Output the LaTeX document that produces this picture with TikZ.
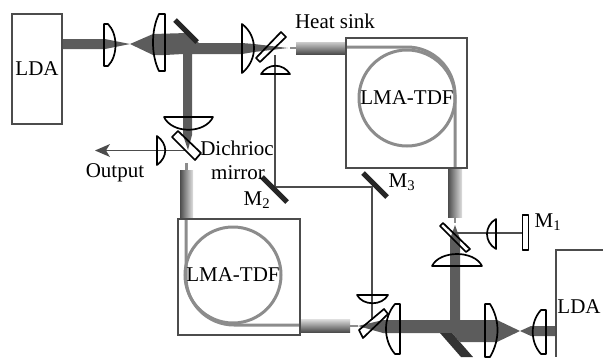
\documentclass[tikz,border=0pt]{standalone}
\usepackage{fontspec}
\setmainfont{Liberation Serif}
\definecolor{beamgray}{gray}{0.36}
\definecolor{fibergray}{gray}{0.55}
\definecolor{framegray}{gray}{0.3}
\tikzset{
    beam/.style={fill=beamgray, draw=none},
    optic/.style={draw=black, line width=1.7pt, line join=round},
    bar/.style={draw=black!85, line width=5pt},
    thinbeam/.style={draw=framegray, line width=1.6pt},
    frame/.style={draw=framegray, line width=1.8pt},
    fiber/.style={draw=fibergray, line width=3pt},
    lab/.style={font=\fontsize{21}{22}\selectfont, inner sep=0pt}
}
\begin{document}
\begin{tikzpicture}[x=1pt, y=-1pt, >=stealth]
    \useasboundingbox (0,0) rectangle (603,357);

    % Upper pump branch
    \fill[beam] (62,39) -- (105,39) -- (130,44) -- (153,34) -- (187,33) -- (199,43) -- (242,43) -- (254,44) -- (288,48) -- (254,52) -- (242,54) -- (192,54) -- (192,135) -- (188,150) -- (183,135) -- (183,54) -- (165,55) -- (153,55) -- (130,44) -- (105,49) -- (62,49) -- cycle;
    \draw[bar] (175,20) -- (197,42);
    \draw[thinbeam] (186,150.5) -- (105,150.5);
    \fill[framegray] (95,150.5) -- (110,144) -- (106,150.5) -- (110,157) -- cycle;
    \draw[thinbeam] (275,55) -- (275,187) -- (372,187) -- (372,320);

    % Lower pump branch
    \fill[beam] (358,326) -- (383,320) -- (450,320) -- (450,239) -- (455,225) -- (460,239) -- (460,320) -- (497,320) -- (520,331) -- (531,326) -- (555,326) -- (555,336) -- (531,336) -- (520,331) -- (497,342) -- (460,342) -- (452,333) -- (383,333) -- cycle;
    \fill[black!80] (440,333) -- (452,333) -- (473,357) -- (461,357) -- cycle;
    \draw[thinbeam] (455,233) -- (523,233);

    % Heat sinks
    \shade[top color=gray!40, bottom color=black!70] (296,42) rectangle (346,54);
    \fill[fibergray] (290,47) rectangle (296,49);
    \shade[left color=black!70, right color=gray!25] (448,168) rectangle (462,217);
    \fill[fibergray] (454,217) rectangle (456,223);
    \shade[left color=black!70, right color=gray!25] (180,170) rectangle (193,219);
    \fill[fibergray] (185,163) rectangle (188,170);
    \shade[top color=gray!25, bottom color=black!70] (300,319) rectangle (350,332);
    \fill[fibergray] (350,324.5) rectangle (358,326.5);

    % Gain fibers
    \node (loopA) at (407,98) [circle, fiber, minimum size=96pt, inner sep=0pt] {};
    \node (loopB) at (233,275) [circle, fiber, minimum size=96pt, inner sep=0pt] {};
    \draw[fiber] (346,47) -- (407,47) arc[start angle=-90, end angle=0, radius=48] -- (455,168);
    \draw[fiber] (186,219) -- (186,277) arc[start angle=180, end angle=90, radius=48] -- (300,325);
    \node (boxA) at (406.5,103) [frame, minimum width=121pt, minimum height=130pt, inner sep=0pt] {};
    \node (boxB) at (239,277) [frame, minimum width=122pt, minimum height=116pt, inner sep=0pt] {};

    % Diode boxes
    \node (ldaA) at (37,69) [frame, minimum width=50pt, minimum height=110pt, inner sep=0pt] {};
    \draw[frame] (603,250) -- (556,250) -- (556,357);

    % Lenses
    \draw[optic] (104,24) -- (108,24) .. controls (118,34) and (118,56) .. (108,66) -- (104,66) -- cycle;
    \draw[optic] (165,14) -- (159,14) .. controls (151,30) and (151,55) .. (159,71) -- (165,71) -- cycle;
    \draw[optic] (242,24) .. controls (258,36) and (258,60) .. (242,73) -- cycle;
    \draw[optic] (164,117) -- (213,117) .. controls (205,134) and (172,134) .. (164,117) -- cycle;
    \draw[optic] (157,136) .. controls (168,144) and (168,157) .. (157,165) -- cycle;
    \draw[optic] (261,74) .. controls (268,63) and (283,63) .. (290,74) -- cycle;
    \draw[optic] (357,295) -- (388,295) .. controls (382,306) and (363,306) .. (357,295) -- cycle;
    \draw[optic] (400,304) -- (395,304) .. controls (383,318) and (383,340) .. (395,354) -- (400,354) -- cycle;
    \draw[optic] (485,304) -- (490,304) .. controls (500,320) and (500,340) .. (490,357) -- (485,357) -- cycle;
    \draw[optic] (546,310) -- (541,310) .. controls (530,322) and (530,342) .. (541,354) -- (546,354) -- cycle;
    \draw[optic] (432,266) .. controls (440,250) and (474,250) .. (482,266) -- cycle;
    \draw[optic] (496,219) .. controls (484,226) and (484,242) .. (496,249) -- cycle;

    % Dichroic plates and mirrors
    \draw[optic] (172,137) -- (178,131) -- (201,153) -- (195,160) -- cycle;
    \draw[optic] (256,58) -- (260,62) -- (286,37) -- (281,32) -- cycle;
    \draw[optic] (359,330) -- (363,338) -- (388,314) -- (384,309) -- cycle;
    \draw[optic] (440,226) -- (443,223) -- (470,249) -- (466,252) -- cycle;
    \node (mirrorA) at (525.5,232.5) [optic, minimum width=6pt, minimum height=35pt, inner sep=0pt] {};
    \draw[bar] (262,177) -- (287,202);
    \draw[bar] (363,173) -- (387,197);

    % Labels
    \node (ldaAlab) at (37,69) [lab] {LDA};
    \node (ldaBlab) at (579,307) [lab] {LDA};
    \node (fibAlab) at (407,98) [lab] {LMA-TDF};
    \node (fibBlab) at (233,275) [lab] {LMA-TDF};
    \node (sinklab) at (335,21) [lab] {Heat sink};
    \node (outlab) at (115,173) [lab] {Output};
    \node (dichlab) at (237,148) [lab] {Dichrioc};
    \node (mirrlab) at (238,173) [lab] {mirror};
    \node (mOnelab) at (548,222) [lab] {M\textsubscript{1}};
    \node (mTwolab) at (257,200) [lab] {M\textsubscript{2}};
    \node (mThreelab) at (402,182) [lab] {M\textsubscript{3}};
\end{tikzpicture}
\end{document}
